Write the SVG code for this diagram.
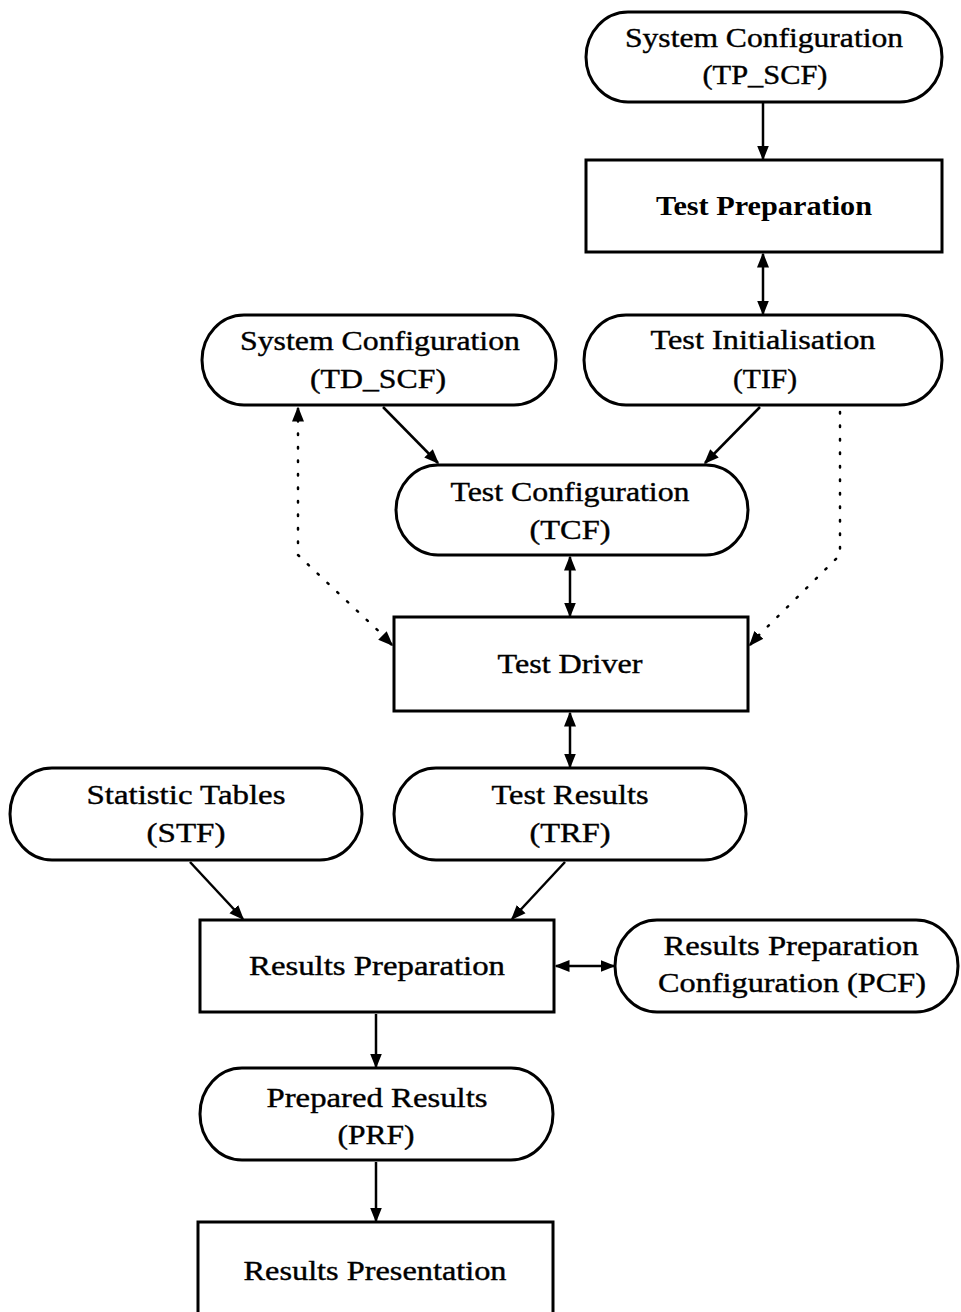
<svg xmlns="http://www.w3.org/2000/svg" width="961" height="1312" viewBox="0 0 961 1312">
<style>
.n{fill:#fff;stroke:#000;stroke-width:3}
.t{font-family:"Liberation Serif",serif;font-size:28px;fill:#000;text-anchor:middle;stroke:#000;stroke-width:0.4}
.b{font-weight:bold;stroke-width:0}
.c{stroke:#000;stroke-width:2.5;fill:none}
.d{stroke:#000;stroke-width:2.5;fill:none;stroke-dasharray:1.5 12;stroke-linecap:round}
</style>
<defs>
<marker id="ah" viewBox="0 0 10 10" refX="9" refY="5" markerWidth="6" markerHeight="6" orient="auto-start-reverse" markerUnits="strokeWidth">
<path d="M0,1 L10,5 L0,9 z" fill="#000"/>
</marker>
</defs>
<rect width="961" height="1312" fill="#fff"/>
<g id="connectors">
<line class="c" x1="763" y1="103" x2="763" y2="159" marker-end="url(#ah)"/>
<line class="c" x1="763" y1="254" x2="763" y2="314" marker-start="url(#ah)" marker-end="url(#ah)"/>
<line class="c" x1="383" y1="407" x2="438" y2="463" marker-end="url(#ah)"/>
<line class="c" x1="760" y1="407" x2="705" y2="463" marker-end="url(#ah)"/>
<line class="c" x1="570" y1="557" x2="570" y2="616" marker-start="url(#ah)" marker-end="url(#ah)"/>
<line class="c" x1="570" y1="713" x2="570" y2="767" marker-start="url(#ah)" marker-end="url(#ah)"/>
<polyline class="d" points="298,420 298,555 388,640"/>
<line class="c" x1="298" y1="418" x2="298" y2="408" marker-end="url(#ah)"/>
<line class="c" x1="383" y1="636" x2="392" y2="645" marker-end="url(#ah)"/>
<polyline class="d" points="840,412 840,555 758,636"/>
<line class="c" x1="757" y1="637" x2="750" y2="645" marker-end="url(#ah)"/>
<line class="c" x1="190" y1="862" x2="243" y2="919" marker-end="url(#ah)"/>
<line class="c" x1="565" y1="862" x2="512" y2="919" marker-end="url(#ah)"/>
<line class="c" x1="556" y1="966" x2="614" y2="966" marker-start="url(#ah)" marker-end="url(#ah)"/>
<line class="c" x1="376" y1="1014" x2="376" y2="1067" marker-end="url(#ah)"/>
<line class="c" x1="376" y1="1162" x2="376" y2="1221" marker-end="url(#ah)"/>
</g>
<g id="tp_scf">
<rect class="n" x="586" y="12" width="356" height="90" rx="42" ry="45"/>
<text class="t" x="764" y="47" textLength="278" lengthAdjust="spacingAndGlyphs">System Configuration</text>
<text class="t" x="765" y="84" textLength="125" lengthAdjust="spacingAndGlyphs">(TP_SCF)</text>
</g>
<g id="test_preparation">
<rect class="n" x="586" y="160" width="356" height="92"/>
<text class="t b" x="764" y="215" textLength="216" lengthAdjust="spacingAndGlyphs">Test Preparation</text>
</g>
<g id="td_scf">
<rect class="n" x="202" y="315" width="354" height="90" rx="42" ry="45"/>
<text class="t" x="380" y="350" textLength="280" lengthAdjust="spacingAndGlyphs">System Configuration</text>
<text class="t" x="378" y="388" textLength="136" lengthAdjust="spacingAndGlyphs">(TD_SCF)</text>
</g>
<g id="tif">
<rect class="n" x="584" y="315" width="358" height="90" rx="42" ry="45"/>
<text class="t" x="763" y="349" textLength="225" lengthAdjust="spacingAndGlyphs">Test Initialisation</text>
<text class="t" x="765" y="388" textLength="64" lengthAdjust="spacingAndGlyphs">(TIF)</text>
</g>
<g id="tcf">
<rect class="n" x="396" y="465" width="352" height="90" rx="42" ry="45"/>
<text class="t" x="570" y="501" textLength="239" lengthAdjust="spacingAndGlyphs">Test Configuration</text>
<text class="t" x="570" y="539" textLength="81" lengthAdjust="spacingAndGlyphs">(TCF)</text>
</g>
<g id="test_driver">
<rect class="n" x="394" y="617" width="354" height="94"/>
<text class="t" x="570" y="673" textLength="145" lengthAdjust="spacingAndGlyphs">Test Driver</text>
</g>
<g id="stf">
<rect class="n" x="10" y="768" width="352" height="92" rx="42" ry="46"/>
<text class="t" x="186" y="804" textLength="199" lengthAdjust="spacingAndGlyphs">Statistic Tables</text>
<text class="t" x="186" y="842" textLength="79" lengthAdjust="spacingAndGlyphs">(STF)</text>
</g>
<g id="trf">
<rect class="n" x="394" y="768" width="352" height="92" rx="42" ry="46"/>
<text class="t" x="570" y="804" textLength="157" lengthAdjust="spacingAndGlyphs">Test Results</text>
<text class="t" x="570" y="842" textLength="81" lengthAdjust="spacingAndGlyphs">(TRF)</text>
</g>
<g id="results_preparation">
<rect class="n" x="200" y="920" width="354" height="92"/>
<text class="t" x="377" y="975" textLength="256" lengthAdjust="spacingAndGlyphs">Results Preparation</text>
</g>
<g id="pcf">
<rect class="n" x="615" y="920" width="343" height="92" rx="42" ry="46"/>
<text class="t" x="791" y="955" textLength="255" lengthAdjust="spacingAndGlyphs">Results Preparation</text>
<text class="t" x="792" y="992" textLength="268" lengthAdjust="spacingAndGlyphs">Configuration (PCF)</text>
</g>
<g id="prf">
<rect class="n" x="200" y="1068" width="353" height="92" rx="42" ry="46"/>
<text class="t" x="377" y="1107" textLength="221" lengthAdjust="spacingAndGlyphs">Prepared Results</text>
<text class="t" x="376" y="1144" textLength="77" lengthAdjust="spacingAndGlyphs">(PRF)</text>
</g>
<g id="results_presentation">
<rect class="n" x="198" y="1222" width="355" height="100"/>
<text class="t" x="375" y="1280" textLength="263" lengthAdjust="spacingAndGlyphs">Results Presentation</text>
</g>
</svg>
